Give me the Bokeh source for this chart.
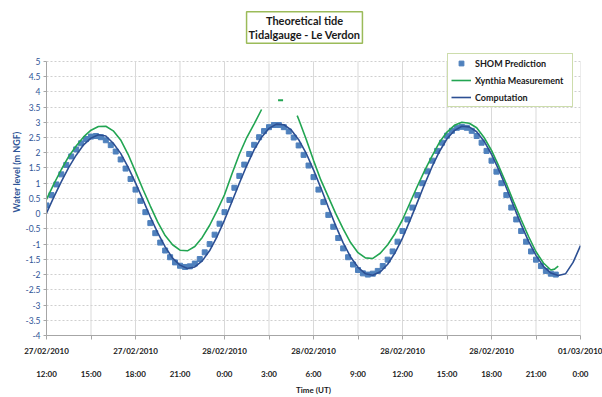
from bokeh.plotting import figure
from bokeh.models import (Range1d, LinearAxis, FixedTicker, Grid, Legend,
                          LegendItem, Label, BoxAnnotation)
from bokeh.embed import file_html
from bokeh.resources import INLINE

# ---------------- data (hours since 27/02/2010 12:00 UT) ----------------
# SHOM prediction: one value every 20 minutes from 12:00 27/02
shom_step_h = 1.0 / 3.0
shom_level = [0.27, 0.61, 0.96, 1.29, 1.60, 1.88, 2.11, 2.31, 2.45, 2.53,
              2.55, 2.51, 2.41, 2.25, 2.04, 1.78, 1.48, 1.14, 0.79, 0.42,
              0.05, -0.31, -0.64, -0.95, -1.21, -1.43, -1.60, -1.71, -1.75, -1.73,
              -1.64, -1.49, -1.27, -1.00, -0.69, -0.33, 0.05, 0.45, 0.85, 1.24,
              1.61, 1.96, 2.26, 2.51, 2.71, 2.84, 2.91, 2.91, 2.84, 2.70,
              2.50, 2.24, 1.93, 1.58, 1.20, 0.79, 0.38, -0.04, -0.43, -0.80,
              -1.14, -1.43, -1.67, -1.85, -1.96, -2.00, -1.97, -1.88, -1.72, -1.51,
              -1.24, -0.92, -0.57, -0.19, 0.20, 0.61, 1.00, 1.39, 1.74, 2.06,
              2.33, 2.56, 2.72, 2.82, 2.85, 2.82, 2.72, 2.55, 2.33, 2.06,
              1.74, 1.38, 1.00, 0.61, 0.20, -0.19, -0.57, -0.92, -1.24, -1.51,
              -1.72, -1.88, -1.97, -2.00]

# Computation: one value every 30 minutes
comp_step_h = 0.5
comp_level = [0.02, 0.55, 1.05, 1.52, 1.92, 2.26, 2.48, 2.59, 2.55, 2.31,
              1.98, 1.53, 1.01, 0.46, -0.11, -0.63, -1.09, -1.46, -1.69, -1.80,
              -1.75, -1.55, -1.21, -0.75, -0.21, 0.39, 1.00, 1.58, 2.10, 2.51,
              2.80, 2.94, 2.92, 2.75, 2.43, 1.99, 1.44, 0.84, 0.21, -0.40,
              -0.96, -1.42, -1.76, -1.97, -2.02, -1.91, -1.66, -1.28, -0.80, -0.23,
              0.37, 0.98, 1.55, 2.05, 2.46, 2.73, 2.87, 2.85, 2.69, 2.38,
              1.95, 1.43, 0.85, 0.24, -0.36, -0.91, -1.37, -1.73, -1.95, -2.03,
              -1.97, -1.60, -1.05]

# Xynthia measurement (gap around the second high water)
xyn_hours = [0, 0.5, 1, 1.5, 2, 2.5, 3, 3.5, 4, 4.5, 5, 5.5, 6, 6.5, 7, 7.5,
             8, 8.5, 9, 9.5, 10, 10.5, 11, 11.5, 12, 12.5, 13, 13.5, 14, 14.5,
             15.5,
             16.9, 17, 17.5, 18, 18.5, 19, 19.5, 20, 20.5, 21, 21.5, 22, 22.5,
             23, 23.5, 24, 24.5, 25, 25.5, 26, 26.5, 27, 27.5, 28, 28.5, 29,
             29.5, 30, 30.5, 31, 31.5, 32, 32.5, 33, 33.5, 34, 34.25, 34.5]
xyn_level = [0.47, 0.98, 1.45, 1.88, 2.22, 2.52, 2.74, 2.86, 2.87, 2.72,
             2.42, 1.95, 1.38, 0.80, 0.25, -0.28, -0.72, -1.02, -1.20, -1.22,
             -1.08, -0.78, -0.38, 0.10, 0.62, 1.30, 1.95, 2.50, 2.95, 3.42,
             float("nan"),
             3.22, 3.10, 2.45, 1.75, 1.10, 0.55, 0.00, -0.50, -0.95, -1.28,
             -1.45, -1.47, -1.30, -1.02, -0.65, -0.20, 0.35, 0.90, 1.42, 1.90,
             2.35, 2.68, 2.90, 3.00, 2.97, 2.82, 2.50, 2.08, 1.55, 0.98,
             0.38, -0.20, -0.75, -1.25, -1.62, -1.85, -1.82, -1.72]
xyn_spike_hours = [15.78]
xyn_spike_level = [3.72]

# axes
y_min, y_max = -4, 5
y_ticks = [-4, -3.5, -3, -2.5, -2, -1.5, -1, -0.5, 0, 0.5, 1, 1.5, 2, 2.5,
           3, 3.5, 4, 4.5, 5]
y_tick_labels = ["-4", "-3.5", "-3", "-2.5", "-2", "-1.5", "-1", "-0.5", "0",
                 "0.5", "1", "1.5", "2", "2.5", "3", "3.5", "4", "4.5", "5"]
x_ticks = [0, 3, 6, 9, 12, 15, 18, 21, 24, 27, 30, 33, 36]
date_labels = ["27/02/2010", "", "27/02/2010", "", "28/02/2010", "",
               "28/02/2010", "", "28/02/2010", "", "28/02/2010", "",
               "01/03/2010"]
time_labels = ["12:00", "15:00", "18:00", "21:00", "0:00", "3:00", "6:00",
               "9:00", "12:00", "15:00", "18:00", "21:00", "0:00"]

shom_hours = [i * shom_step_h for i in range(len(shom_level))]
comp_hours = [i * comp_step_h for i in range(len(comp_level))]

FONT = "Lato"
AXIS_BLUE = "#2f5597"
GRID = "#d9d9d9"
SHOM_C = "#4f81bd"
COMP_C = "#2c4f93"
XYN_C = "#22a552"
FRAME_C = "#9bbb59"

# layout: chart area spans 5 .. -4 over page rows 62 .. 342; the frame is
# extended upward so the title and legend boxes sit inside it.
TOP_PAD = 8
AREA_TOP, AREA_BOTTOM = 62, 342
px_per_unit = (AREA_BOTTOM - AREA_TOP) / (y_max - y_min)
y_top = y_min + (AREA_BOTTOM - TOP_PAD) / px_per_unit

p = figure(width=602, height=397, output_backend="svg", toolbar_location=None,
           x_range=Range1d(0, 36), y_range=Range1d(y_min, y_top),
           x_axis_type=None, y_axis_type=None,
           min_border_left=46, min_border_right=22,
           min_border_top=TOP_PAD, min_border_bottom=40)
p.outline_line_color = None
p.background_fill_color = "white"
p.border_fill_color = "white"
p.center = [r for r in p.center if not isinstance(r, Grid)]

# grids: dashed horizontal lines, solid vertical lines limited to 5 .. -4
p.add_layout(Grid(dimension=1, ticker=FixedTicker(ticks=y_ticks),
                  grid_line_color="#cfcfcf", grid_line_dash="2 2",
                  grid_line_width=1))
p.multi_line(xs=[[t, t] for t in x_ticks],
             ys=[[y_min, y_max] for t in x_ticks],
             line_color=GRID, line_width=1)
# blank band above the chart area (where title and legend sit)
p.add_layout(BoxAnnotation(bottom=y_max + 1.5 / px_per_unit, fill_color="white",
                           fill_alpha=1.0, line_color=None))

# y axis
yaxis = LinearAxis(ticker=FixedTicker(ticks=y_ticks), bounds=(y_min, y_max),
                   major_label_overrides={t: l for t, l in zip(y_ticks, y_tick_labels)},
                   axis_label="Water level (m NGF)",
                   axis_label_text_font=FONT, axis_label_text_font_size="9px",
                   axis_label_text_font_style="bold", axis_label_text_color=AXIS_BLUE,
                   axis_label_standoff=0,
                   major_label_text_font=FONT, major_label_text_font_size="8.5px",
                   major_label_text_color=AXIS_BLUE, major_label_standoff=3,
                   axis_line_color="#a6a6a6", major_tick_line_color="#a6a6a6",
                   major_tick_out=3, major_tick_in=0, minor_tick_line_color=None)
p.add_layout(yaxis, "left")

# x axes: dates then times
xa1 = LinearAxis(ticker=FixedTicker(ticks=x_ticks),
                 major_label_overrides={t: l for t, l in zip(x_ticks, date_labels)},
                 major_label_text_font=FONT, major_label_text_font_size="8px",
                 major_label_text_font_style="bold", major_label_text_color="#1a1a1a",
                 major_label_standoff=6,
                 axis_line_color="#a6a6a6", major_tick_line_color="#a6a6a6",
                 major_tick_out=4, major_tick_in=0, minor_tick_line_color=None)
xa2 = LinearAxis(ticker=FixedTicker(ticks=x_ticks),
                 major_label_overrides={t: l for t, l in zip(x_ticks, time_labels)},
                 major_label_text_font=FONT, major_label_text_font_size="8px",
                 major_label_text_font_style="bold", major_label_text_color="#1a1a1a",
                 major_label_standoff=10,
                 axis_label="Time (UT)", axis_label_text_font=FONT,
                 axis_label_text_font_size="8px", axis_label_text_font_style="bold",
                 axis_label_text_color="#1a1a1a", axis_label_standoff=3,
                 axis_line_color=None, major_tick_line_color=None,
                 major_tick_out=0, major_tick_in=0, minor_tick_line_color=None)
p.add_layout(xa1, "below")
p.add_layout(xa2, "below")

# series
r_shom = p.scatter(shom_hours, shom_level, marker="square", size=5,
                   fill_color=SHOM_C, line_color=SHOM_C)
r_xyn = p.line(xyn_hours, xyn_level, line_color=XYN_C, line_width=1.6)
p.scatter(xyn_spike_hours, xyn_spike_level, marker="dash", size=5,
          line_color=XYN_C, line_width=2)
r_comp = p.line(comp_hours, comp_level, line_color=COMP_C, line_width=1.6)

# legend box: page x 447..577, y 55..107
legend = Legend(items=[LegendItem(label="SHOM Prediction", renderers=[r_shom]),
                       LegendItem(label="Xynthia Measurement", renderers=[r_xyn]),
                       LegendItem(label="Computation", renderers=[r_comp])],
                location=(447 - 46, 228),
                border_line_color=FRAME_C, border_line_width=1.5,
                background_fill_color="white", background_fill_alpha=1.0,
                label_text_font=FONT, label_text_font_size="9px",
                label_text_font_style="bold", label_text_color="#1a1a1a",
                glyph_width=20, glyph_height=12, label_height=12,
                label_width=94, label_standoff=4, spacing=5, padding=3, margin=0)
p.add_layout(legend)

# title box centred at page (304, 34)
title = Label(x=304 - 46, y=AREA_BOTTOM - 34, x_units="screen", y_units="screen",
              text="Theoretical tide\nTidalgauge - Le Verdon",
              text_align="center", text_baseline="middle",
              text_font=FONT, text_font_size="11px", text_font_style="bold",
              text_color="#1a1a1a", text_line_height=1.1,
              border_line_color=FRAME_C, border_line_width=1.5,
              background_fill_color="white", padding=2)
p.add_layout(title)

open("out.html", "w").write(file_html(p, INLINE))
